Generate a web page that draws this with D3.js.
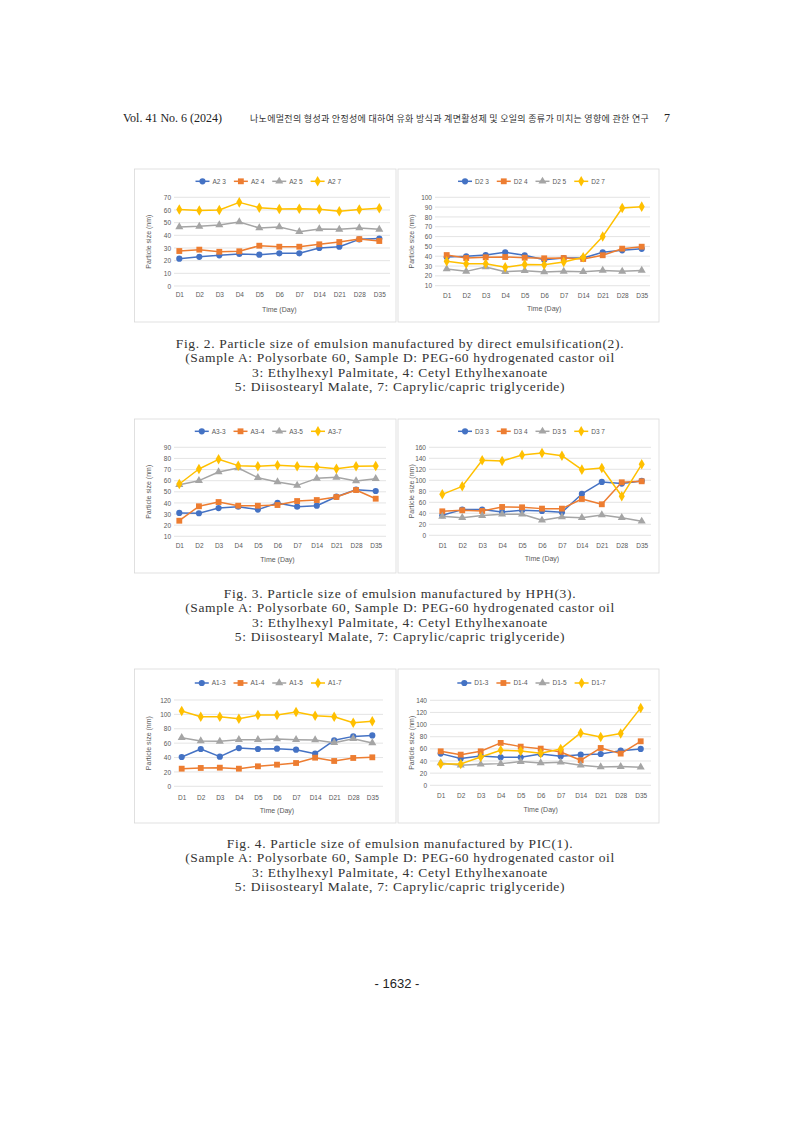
<!DOCTYPE html>
<html>
<head>
<meta charset="utf-8">
<script src="https://cdn.jsdelivr.net/npm/d3@7"></script>
<style>
  body { margin: 0; background: #fff; }
  svg { display: block; }
</style>
</head>
<body>
<svg id="page" width="793" height="1121"></svg>
<script>
// categories on the time axis
const days = ["D1", "D2", "D3", "D4", "D5", "D6", "D7", "D14", "D21", "D28", "D35"];

// Fig. 2 - direct emulsification
const a2_3 = [21.6, 23, 24.2, 25.3, 24.7, 25.8, 25.8, 30, 31, 36.8, 37.4];
const a2_4 = [27.6, 28.7, 27, 27.4, 31.8, 31, 31, 32.9, 34.7, 37, 35.5];
const a2_5 = [46.6, 47.1, 48.2, 50.5, 45.8, 46.6, 42.9, 45, 44.7, 45.8, 44.7];
const a2_7 = [60.3, 59.5, 60, 66, 61.8, 60.8, 61, 60.5, 59, 60.3, 61.3];
const d2_3 = [39.2, 39.9, 41.2, 44, 40.9, 36.5, 38.2, 38.2, 44, 46, 47.5];
const d2_4 = [41.2, 38.2, 38.9, 39.2, 38.5, 37.9, 38.2, 37.2, 41, 47.7, 49.7];
const d2_5 = [27, 24.6, 29, 24.3, 25.3, 24, 24.6, 24.3, 25.6, 24.6, 25.6];
const d2_7 = [34.8, 32.4, 32.4, 28.7, 31.7, 31.4, 34.1, 38.9, 60, 89.1, 90.5];

// Fig. 3 - HPH
const a3_3 = [31, 30.7, 35.4, 36.6, 34, 40, 36.6, 37.5, 45.6, 51.9, 50.7];
const a3_4 = [24, 37, 40.8, 37.5, 37.5, 38.1, 41.7, 42.6, 45.3, 51.6, 43.8];
const a3_5 = [56.4, 60, 67.8, 71.4, 62.7, 58.8, 55.8, 62.1, 63, 59.7, 61.8];
const a3_7 = [57, 70.5, 79.2, 73.5, 72.9, 73.8, 72.9, 72.3, 70.8, 72.9, 73.2];
const d3_3 = [36.4, 46.7, 46.7, 42.4, 45.5, 44.2, 41.8, 75.2, 97, 94, 98.8];
const d3_4 = [43.6, 45.5, 44.2, 51.5, 50.9, 48.5, 48.5, 66, 56.4, 96.4, 98.2];
const d3_5 = [34.5, 32.1, 35.8, 38.2, 38.2, 27.3, 33.3, 32.1, 37, 32.1, 25.5];
const d3_7 = [74.5, 89, 136.4, 135.2, 146, 149.7, 144.8, 119.4, 122.4, 70.9, 129.1];

// Fig. 4 - PIC
const a1_3 = [40.7, 51.9, 41.2, 53.2, 51.9, 52.3, 50.9, 45.4, 63.9, 69.4, 70.8];
const a1_4 = [24.5, 25.5, 25.9, 24.5, 27.8, 30.1, 32.4, 39.8, 35.2, 39.4, 40.3];
const a1_5 = [67.6, 63, 62.5, 64.8, 64.8, 65.7, 64.8, 64.4, 60.6, 66.2, 60.2];
const a1_7 = [104.6, 96.8, 96.8, 94, 99, 99, 103.2, 98.1, 96.8, 88.4, 90.3];
const d1_3 = [52.2, 44, 48.4, 46.2, 46.2, 51.6, 47.8, 50.5, 51.6, 57.1, 59.9];
const d1_4 = [56, 50.5, 56, 69.8, 63.7, 60.4, 54.9, 41.2, 61.5, 52.2, 72.5];
const d1_5 = [36.8, 33, 34.6, 35.7, 39, 36.8, 37.9, 33, 30.2, 30.8, 29.7];
const d1_7 = [35.2, 35.2, 46.7, 57.7, 56.6, 52.7, 59.9, 86.3, 79.7, 85.2, 127.5];

const colors = ["#4472C4", "#ED7D31", "#A5A5A5", "#FFC000"];
const shapes = [d3.symbolCircle, d3.symbolSquare, d3.symbolTriangle, d3.symbolDiamond];
const symSize = [30, 34, 28, 32];

const charts = [
  {box: [134.5, 169, 261.5, 153], x: [179.3, 379.3], g: [174, 390], y: [286, 197.3], dom: [0, 70], step: 10,
   names: ["A2 3", "A2 4", "A2 5", "A2 7"], series: [a2_3, a2_4, a2_5, a2_7], legY: 181.3, labY: 295, titY: 309},
  {box: [398, 169, 261, 153], x: [446.7, 641.7], g: [435, 650], y: [285.7, 197.3], dom: [10, 100], step: 10,
   names: ["D2 3", "D2 4", "D2 5", "D2 7"], series: [d2_3, d2_4, d2_5, d2_7], legY: 181.3, labY: 296, titY: 308.5},
  {box: [134.5, 419, 261.5, 154], x: [179.3, 375.7], g: [174, 386], y: [536.3, 447.3], dom: [10, 90], step: 10,
   names: ["A3-3", "A3-4", "A3-5", "A3-7"], series: [a3_3, a3_4, a3_5, a3_7], legY: 431.3, labY: 546, titY: 559},
  {box: [398, 419, 261, 154], x: [442.3, 641.7], g: [429, 651], y: [535.3, 447.3], dom: [0, 160], step: 20,
   names: ["D3 3", "D3 4", "D3 5", "D3 7"], series: [d3_3, d3_4, d3_5, d3_7], legY: 431.3, labY: 546, titY: 558.5},
  {box: [134.5, 669, 261.5, 154], x: [181.7, 372.3], g: [174, 383], y: [786.3, 700], dom: [0, 120], step: 20,
   names: ["A1-3", "A1-4", "A1-5", "A1-7"], series: [a1_3, a1_4, a1_5, a1_7], legY: 683, labY: 797.5, titY: 810},
  {box: [398, 669, 261, 154], x: [440.7, 640.7], g: [430, 651], y: [785.3, 700.3], dom: [0, 140], step: 20,
   names: ["D1-3", "D1-4", "D1-5", "D1-7"], series: [d1_3, d1_4, d1_5, d1_7], legY: 683, labY: 796, titY: 809.5}
];

const captions = [
  {y: 343, title: "Fig. 2. Particle size of emulsion manufactured by direct emulsification(2)."},
  {y: 593, title: "Fig. 3. Particle size of emulsion manufactured by HPH(3)."},
  {y: 843, title: "Fig. 4. Particle size of emulsion manufactured by PIC(1)."}
];
const captionLines = [
  "(Sample A: Polysorbate 60, Sample D: PEG-60 hydrogenated castor oil",
  "3: Ethylhexyl Palmitate, 4: Cetyl Ethylhexanoate",
  "5: Diisostearyl Malate, 7: Caprylic/capric triglyceride)"
];

const svg = d3.select("#page");
const chartFont = "'Liberation Sans', Arial, sans-serif";
const serif = "'Liberation Serif', 'DejaVu Serif', serif";

// running header
svg.append("text").attr("x", 123).attr("y", 122)
  .style("font-family", serif).style("font-size", "12px").attr("fill", "#222")
  .text("Vol. 41 No. 6 (2024)");
svg.append("text").attr("x", 250).attr("y", 122)
  .style("font-family", "'Noto Sans CJK KR', sans-serif").style("font-size", "9px")
  .style("letter-spacing", "0.3px").attr("fill", "#333")
  .text("나노에멀전의 형성과 안정성에 대하여 유화 방식과 계면활성제 및 오일의 종류가 미치는 영향에 관한 연구");
svg.append("text").attr("x", 664).attr("y", 122)
  .style("font-family", serif).style("font-size", "12px").attr("fill", "#222")
  .text("7");

charts.forEach(c => {
  const [bx, by, bw, bh] = c.box;
  const g = svg.append("g");

  g.append("rect").attr("x", bx).attr("y", by).attr("width", bw).attr("height", bh)
    .attr("fill", "#fff").attr("stroke", "#d9d9d9").attr("stroke-width", 0.8);

  const x = d3.scalePoint().domain(days).range(c.x);
  const y = d3.scaleLinear().domain(c.dom).range(c.y);
  const ticks = d3.range(c.dom[0], c.dom[1] + 0.001, c.step);

  // gridlines
  g.selectAll(".grid").data(ticks).enter().append("line")
    .attr("x1", c.g[0]).attr("x2", c.g[1])
    .attr("y1", d => y(d)).attr("y2", d => y(d))
    .attr("stroke", "#d9d9d9").attr("stroke-width", 0.7);

  // y axis labels
  const yAxis = d3.axisLeft(y).tickValues(ticks).tickSize(0).tickPadding(0);
  const ya = g.append("g").attr("transform", `translate(${c.g[0] - 3},0)`).call(yAxis);
  ya.select(".domain").remove();
  ya.selectAll("text").style("font-family", chartFont).style("font-size", "6.5px").attr("fill", "#595959");

  // x axis labels
  const xAxis = d3.axisBottom(x).tickSize(0).tickPadding(0);
  const xa = g.append("g").attr("transform", `translate(0,${c.labY - 2.5})`).call(xAxis);
  xa.select(".domain").remove();
  xa.selectAll("text").attr("dy", "0.71em")
    .style("font-family", chartFont).style("font-size", "6.5px").attr("fill", "#595959");

  // axis titles
  g.append("text").attr("x", (c.x[0] + c.x[1]) / 2).attr("y", c.titY + 2.5)
    .attr("text-anchor", "middle").style("font-family", chartFont).style("font-size", "7px").attr("fill", "#595959")
    .text("Time (Day)");
  const cy = (c.y[0] + c.y[1]) / 2;
  g.append("text").attr("transform", `translate(${bx + 16},${cy}) rotate(-90)`)
    .attr("text-anchor", "middle").style("font-family", chartFont).style("font-size", "7px").attr("fill", "#595959")
    .text("Particle size (nm)");

  // series
  const line = d3.line().x((d, i) => x(days[i])).y(d => y(d));
  c.series.forEach((s, k) => {
    g.append("path").datum(s).attr("d", line)
      .attr("fill", "none").attr("stroke", colors[k]).attr("stroke-width", 1.5).attr("stroke-linejoin", "round");
    g.selectAll(".m" + k).data(s).enter().append("path")
      .attr("transform", (d, i) => `translate(${x(days[i])},${y(d)})`)
      .attr("d", d3.symbol().type(shapes[k]).size(symSize[k]))
      .attr("fill", colors[k]);
  });

  // legend
  const leg = g.append("g");
  let lx = 0;
  c.names.forEach((n, k) => {
    const it = leg.append("g").attr("transform", `translate(${lx},0)`);
    it.append("line").attr("x1", 0).attr("x2", 14).attr("stroke", colors[k]).attr("stroke-width", 1.5);
    it.append("path").attr("transform", "translate(7,0)")
      .attr("d", d3.symbol().type(shapes[k]).size(symSize[k])).attr("fill", colors[k]);
    const t = it.append("text").attr("x", 17).attr("dy", "0.35em")
      .style("font-family", chartFont).style("font-size", "6.5px").attr("fill", "#595959").text(n);
    lx += 17 + t.node().getComputedTextLength() + 8;
  });
  const lw = lx - 8;
  leg.attr("transform", `translate(${bx + bw / 2 + 3 - lw / 2},${c.legY})`);
});

// captions
captions.forEach(cap => {
  const lines = [cap.title].concat(captionLines);
  lines.forEach((l, i) => {
    svg.append("text").attr("x", 400).attr("y", cap.y + 4.5 + i * 14.5)
      .attr("text-anchor", "middle").style("font-family", serif).style("font-size", "13.5px")
      .style("letter-spacing", "0.65px").attr("fill", "#333")
      .text(l);
  });
});

// page number
svg.append("text").attr("x", 397).attr("y", 988).attr("text-anchor", "middle")
  .style("font-family", chartFont).style("font-size", "13px").attr("fill", "#222")
  .text("- 1632 -");
</script>
</body>
</html>
